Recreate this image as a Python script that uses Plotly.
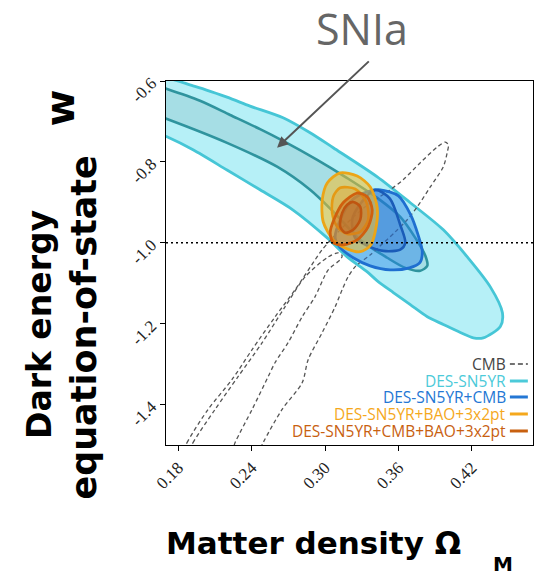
import plotly.graph_objects as go

# ---------------- data (Omega_M, w) contour outlines ----------------
SN_OUT_OM = [0.1651, 0.1921, 0.2199, 0.2387, 0.2657, 0.2878, 0.3067, 0.3427, 0.3697, 0.3967, 0.4163, 0.4351,
             0.4450, 0.4433, 0.4294, 0.4212, 0.4106, 0.3967, 0.3836, 0.3697, 0.3558, 0.3427, 0.3345, 0.3181,
             0.3018, 0.2739, 0.2469, 0.2199, 0.1921, 0.1708, 0.1569]
SN_OUT_W = [-0.595, -0.612, -0.640, -0.662, -0.691, -0.728, -0.765, -0.837, -0.901, -0.968, -1.035, -1.109,
            -1.173, -1.207, -1.235, -1.235, -1.222, -1.202, -1.183, -1.153, -1.123, -1.094, -1.072, -1.035,
            -0.988, -0.919, -0.869, -0.820, -0.770, -0.738, -0.721]

SN_IN_OM = [0.1569, 0.1708, 0.1978, 0.2224, 0.2469, 0.2657, 0.2936, 0.3181, 0.3427, 0.3615, 0.3738, 0.3820,
            0.3836, 0.3779, 0.3656, 0.3508, 0.3288, 0.3067, 0.2878, 0.2608, 0.2199, 0.1708, 0.1569]
SN_IN_W = [-0.607, -0.620, -0.649, -0.684, -0.719, -0.748, -0.795, -0.840, -0.889, -0.936, -0.988, -1.032,
           -1.057, -1.069, -1.062, -1.037, -0.993, -0.923, -0.869, -0.812, -0.753, -0.694, -0.679]

CMB_OUT_OM = [0.1774, 0.1872, 0.2044, 0.2240, 0.2404, 0.2592, 0.2756, 0.2919, 0.2977, 0.3124, 0.3328, 0.3533,
              0.3639, 0.3779, 0.3918, 0.3983, 0.4008, 0.4000, 0.3967, 0.3860, 0.3754, 0.3672, 0.3574, 0.3369,
              0.3247, 0.3189, 0.3140, 0.3083, 0.2977, 0.2862, 0.2813, 0.2649, 0.2494, 0.2387]
CMB_OUT_W = [-1.560, -1.494, -1.412, -1.338, -1.264, -1.183, -1.116, -1.042, -1.017, -0.968, -0.911, -0.869,
             -0.844, -0.802, -0.763, -0.751, -0.758, -0.775, -0.812, -0.862, -0.911, -0.943, -0.973, -1.030,
             -1.059, -1.084, -1.116, -1.158, -1.222, -1.289, -1.346, -1.412, -1.494, -1.560]

CMB_IN_OM = [0.1815, 0.1921, 0.2101, 0.2289, 0.2486, 0.2674, 0.2838, 0.3026, 0.3108, 0.3140, 0.3124, 0.3026,
             0.2919, 0.2813, 0.2698, 0.2592, 0.2535, 0.2404, 0.2265, 0.2183]
CMB_IN_W = [-1.560, -1.494, -1.412, -1.331, -1.247, -1.158, -1.084, -1.035, -1.025, -1.032, -1.042, -1.067,
            -1.133, -1.183, -1.247, -1.296, -1.331, -1.412, -1.494, -1.560]

SNC_OUT_OM = [0.3345, 0.3451, 0.3600, 0.3700, 0.3760, 0.3795, 0.3775, 0.3690, 0.3533, 0.3369, 0.3230, 0.3124,
              0.3083, 0.3124, 0.3222]
SNC_OUT_W = [-0.874, -0.869, -0.884, -0.931, -0.980, -1.022, -1.049, -1.062, -1.067, -1.057, -1.037, -1.012,
             -0.988, -0.943, -0.894]
SNC_IN_OM = [0.3410, 0.3530, 0.3615, 0.3656, 0.3615, 0.3476, 0.3345, 0.3247, 0.3222, 0.3288]
SNC_IN_W = [-0.869, -0.891, -0.956, -1.000, -1.017, -1.020, -1.007, -0.988, -0.943, -0.904]

SNB_OUT_OM = [0.3124, 0.3263, 0.3370, 0.3427, 0.3410, 0.3370, 0.3288, 0.3181, 0.3067, 0.2985, 0.2977, 0.3018]
SNB_OUT_W = [-0.827, -0.835, -0.862, -0.914, -0.973, -1.007, -1.022, -1.015, -0.993, -0.948, -0.894, -0.852]
SNB_IN_OM = [0.3124, 0.3247, 0.3337, 0.3353, 0.3288, 0.3181, 0.3099, 0.3058, 0.3067]
SNB_IN_W = [-0.864, -0.867, -0.899, -0.943, -0.973, -0.978, -0.960, -0.926, -0.886]

ALL_OUT_OM = [0.3263, 0.3345, 0.3386, 0.3353, 0.3263, 0.3148, 0.3067, 0.3042, 0.3075, 0.3148]
ALL_OUT_W = [-0.877, -0.886, -0.919, -0.960, -0.993, -1.005, -1.000, -0.975, -0.941, -0.901]
ALL_IN_OM = [0.3230, 0.3288, 0.3288, 0.3230, 0.3165, 0.3124, 0.3140, 0.3181]
ALL_IN_W = [-0.899, -0.911, -0.943, -0.968, -0.975, -0.960, -0.926, -0.906]

X_TICKS = [0.18, 0.24, 0.30, 0.36, 0.42]
X_TICK_TEXT = ["0.18", "0.24", "0.30", "0.36", "0.42"]
Y_TICKS = [-1.4, -1.2, -1.0, -0.8, -0.6]
Y_TICK_TEXT = ["-1.4", "-1.2", "-1.0", "-0.8", "-0.6"]

LEGEND_LABELS = ["CMB", "DES-SN5YR", "DES-SN5YR+CMB", "DES-SN5YR+BAO+3x2pt", "DES-SN5YR+CMB+BAO+3x2pt"]
LEGEND_COLORS = ["#444444", "#4ccad9", "#2477d4", "#f5a81c", "#c8600f"]
LEGEND_DASH = ["dash", "solid", "solid", "solid", "solid"]

W_REF = -1.0

# The page body adds an 8 px offset; the figure is sized so the plot lands where the reference has it.
PAGE_OFFSET = 8
FIG_W, FIG_H = 543 - PAGE_OFFSET, 575 - PAGE_OFFSET


def closed(xs, ys):
    return list(xs) + [xs[0]], list(ys) + [ys[0]]


fig = go.Figure()


def add_region(xs, ys, fill, line_color, width=2.6, dash="solid"):
    cx, cy = closed(xs, ys)
    fig.add_trace(go.Scatter(
        x=cx, y=cy, mode="lines", fill="toself" if fill else None,
        fillcolor=fill, line=dict(color=line_color, width=width, dash=dash, shape="spline", smoothing=0.8),
        showlegend=False, hoverinfo="skip"))


# DES-SN5YR
add_region(SN_OUT_OM, SN_OUT_W, "rgb(182,240,247)", "#46c6d6", 2.8)
add_region(SN_IN_OM, SN_IN_W, "rgb(166,222,229)", "#2f949e", 2.6)
# CMB dashed
add_region(CMB_OUT_OM, CMB_OUT_W, None, "#555555", 1.3, dash="4px,3px")
add_region(CMB_IN_OM, CMB_IN_W, None, "#555555", 1.3, dash="4px,3px")
# DES-SN5YR+CMB
add_region(SNC_OUT_OM, SNC_OUT_W, "rgba(40,130,230,0.45)", "#1f6fd0", 2.8)
add_region(SNC_IN_OM, SNC_IN_W, "rgba(30,100,210,0.30)", "#1a5cb8", 2.6)
# DES-SN5YR+BAO+3x2pt
add_region(SNB_OUT_OM, SNB_OUT_W, "rgba(245,190,40,0.55)", "#eca517", 2.8)
add_region(SNB_IN_OM, SNB_IN_W, "rgba(230,160,40,0.35)", "#e59a14", 2.6)
# DES-SN5YR+CMB+BAO+3x2pt
add_region(ALL_OUT_OM, ALL_OUT_W, "rgba(200,100,30,0.40)", "#d0600e", 2.8)
add_region(ALL_IN_OM, ALL_IN_W, "rgba(180,90,30,0.35)", "#bf5510", 2.6)

# w = -1 reference
fig.add_shape(type="line", xref="paper", x0=0, x1=1, yref="y", y0=W_REF, y1=W_REF,
              line=dict(color="black", width=1.6, dash="2px,3px"), layer="above")

axis_common = dict(showline=True, linecolor="black", linewidth=1.2, mirror=True, ticks="outside",
                   ticklen=5, tickwidth=1, tickcolor="black", showgrid=False, zeroline=False,
                   tickfont=dict(family="Liberation Serif", size=17, color="#222"))

fig.update_xaxes(range=[0.17, 0.47], tickvals=X_TICKS, ticktext=X_TICK_TEXT, tickangle=-45, **axis_common)
fig.update_yaxes(range=[-1.5, -0.6], tickvals=Y_TICKS, ticktext=Y_TICK_TEXT, tickangle=-45,
                 ticklabelstandoff=5, **axis_common)

ann = []
legend_rows = [0.2225, 0.1758, 0.1319, 0.0852, 0.0385]
for lab, col, dsh, yy in zip(LEGEND_LABELS, LEGEND_COLORS, LEGEND_DASH, legend_rows):
    ann.append(dict(xref="paper", yref="paper", x=0.933, y=yy, xanchor="right", yanchor="middle",
                    text=lab, showarrow=False, font=dict(family="Open Sans", size=15.5, color=col)))
    fig.add_shape(type="line", xref="paper", yref="paper", x0=0.937, x1=0.986, y0=yy, y1=yy,
                  line=dict(color=col, width=3 if dsh == "solid" else 1.6,
                            dash="solid" if dsh == "solid" else "5px,3px"))

# SNIa label and arrow
ann.append(dict(xref="paper", yref="paper", x=0.534, y=1.1456, xanchor="center", yanchor="middle",
                text="SNIa", showarrow=False, font=dict(family="Open Sans", size=43, color="#666666")))
ann.append(dict(xref="x", yref="y", x=0.2608, y=-0.765, axref="x", ayref="y", ax=0.337, ay=-0.548,
                text="", showarrow=True, arrowhead=2, arrowsize=1.1, arrowwidth=2, arrowcolor="#555555"))

# Axis titles
ann.append(dict(xref="paper", yref="paper", x=-0.343, y=0.330, xanchor="center", yanchor="middle",
                text="<b>Dark energy</b>", textangle=-90, showarrow=False,
                font=dict(family="DejaVu Sans", size=33, color="black")))
ann.append(dict(xref="paper", yref="paper", x=-0.224, y=0.322, xanchor="center", yanchor="middle",
                text="<b>equation-of-state</b>", textangle=-90, showarrow=False,
                font=dict(family="DejaVu Sans", size=35, color="black")))
ann.append(dict(xref="paper", yref="paper", x=-0.288, y=0.925, xanchor="center", yanchor="middle",
                text="<b>w</b>", textangle=-90, showarrow=False,
                font=dict(family="DejaVu Sans", size=40, color="black")))
ann.append(dict(xref="paper", yref="paper", x=0.402, y=-0.269, xanchor="center", yanchor="middle",
                text="<b>Matter density Ω</b>", showarrow=False,
                font=dict(family="DejaVu Sans", size=31, color="black")))
ann.append(dict(xref="paper", yref="paper", x=0.918, y=-0.327, xanchor="center", yanchor="middle",
                text="<b>M</b>", showarrow=False,
                font=dict(family="DejaVu Sans", size=20, color="black")))

fig.update_layout(width=FIG_W, height=FIG_H,
                  margin=dict(l=166 - PAGE_OFFSET, r=10, t=81 - PAGE_OFFSET, b=130),
                  paper_bgcolor="white", plot_bgcolor="white", annotations=ann, showlegend=False)

fig.write_html("out.html")
